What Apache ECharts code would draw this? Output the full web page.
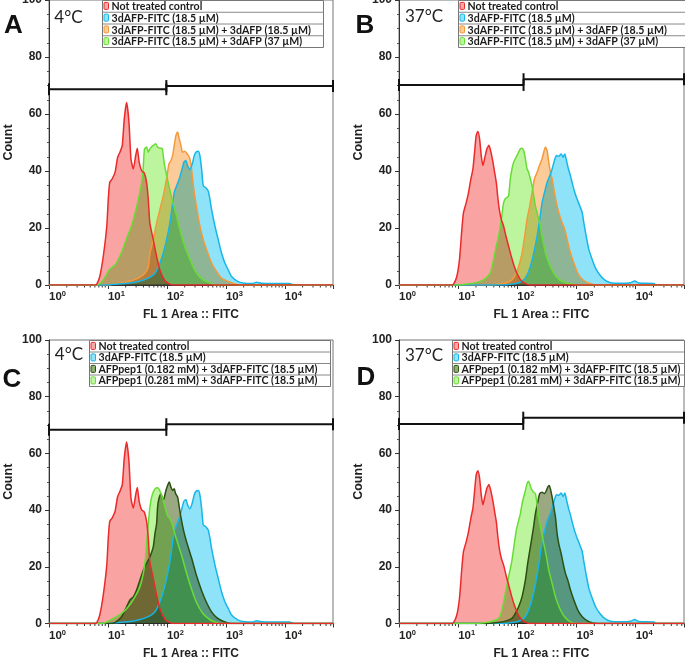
<!DOCTYPE html>
<html>
<head>
<meta charset="utf-8">
<script src="https://cdn.jsdelivr.net/npm/echarts@6/dist/echarts.min.js"></script>
<style>
html,body{margin:0;padding:0;background:#fff;}
#chart{width:685px;height:660px;}
</style>
</head>
<body>
<div id="chart"></div>
<script>
// ---------------- DATA ----------------
// x = log10(FL 1 Area :: FITC intensity), axis runs 10^0 .. 65536 ; y = cell count
const X_MAX = Math.log10(65536);
const xTickExponents = [0, 1, 2, 3, 4];

const legendAB = ['Not treated control', '3dAFP-FITC (18.5 µM)', '3dAFP-FITC (18.5 µM) + 3dAFP (18.5 µM)', '3dAFP-FITC (18.5 µM) + 3dAFP (37 µM)'];
const legendCD = ['Not treated control', '3dAFP-FITC (18.5 µM)', 'AFPpep1 (0.182 mM) + 3dAFP-FITC (18.5 µM)', 'AFPpep1 (0.281 mM) + 3dAFP-FITC (18.5 µM)'];
const panelLetters = ['A', 'B', 'C', 'D'];
const panelTemps = ['4°C', '37°C', '4°C', '37°C'];

// 4 °C histograms
const control4 = [[0,0],[0.78,0],[0.81,0.3],[0.86,2.9],[0.92,10],[0.98,20.6],[1.005,30],[1.03,36],[1.07,37.2],[1.12,39.5],[1.164,44.8],[1.203,46.6],[1.243,49],[1.277,58.4],[1.316,64],[1.356,57.2],[1.39,44.2],[1.43,40.7],[1.47,45.4],[1.497,48],[1.53,43],[1.57,40.1],[1.616,39.3],[1.655,36],[1.684,30],[1.71,21.8],[1.768,15.9],[1.825,10],[1.88,5.3],[1.966,1.5],[2.05,0.3],[2.1,0],[X_MAX,0]];
const fitc4 = [[0,0],[1.0,0],[1.062,0.2],[1.345,0.6],[1.514,1.2],[1.684,2.4],[1.797,4.1],[1.881,7.7],[1.938,11.2],[1.994,15.9],[2.051,21.8],[2.09,27.7],[2.124,32.5],[2.164,34.8],[2.209,37.2],[2.249,40.1],[2.288,43.1],[2.322,43.7],[2.35,41.9],[2.39,40.5],[2.43,42.5],[2.463,45.4],[2.492,46.6],[2.531,46.9],[2.559,45.4],[2.588,40.7],[2.616,34.8],[2.655,34.2],[2.7,33],[2.729,30.1],[2.757,26.5],[2.814,20.7],[2.87,15.9],[2.926,11.2],[2.983,7.7],[3.04,5.3],[3.096,3],[3.209,1.2],[3.322,0.6],[3.45,0.5],[3.52,1],[3.6,0.6],[3.8,0.5],[4.08,0.5],[4.15,0],[X_MAX,0]];
const comp18_4 = [[0,0],[1.0,0],[1.175,0.6],[1.345,1.2],[1.514,2.4],[1.627,4.1],[1.684,6.5],[1.712,11.2],[1.768,15.9],[1.825,21.8],[1.881,26.5],[1.938,31.3],[1.994,37.2],[2.034,42.5],[2.068,43.7],[2.096,45.4],[2.124,49],[2.153,52.5],[2.181,53.7],[2.209,51.3],[2.237,49],[2.266,46.6],[2.305,46.9],[2.345,46],[2.379,44.8],[2.407,42.5],[2.43,38.3],[2.463,32.5],[2.5,27.7],[2.559,20.7],[2.616,15.9],[2.672,12.4],[2.757,7.7],[2.842,4.7],[2.926,2.4],[3.096,0.8],[3.25,0],[X_MAX,0]];
const comp37_4 = [[0,0],[0.8,0],[0.85,0.3],[0.89,1],[0.92,1.8],[0.98,3.8],[1.03,5.5],[1.12,7],[1.2,10],[1.26,13],[1.32,16.5],[1.4,20.7],[1.49,27.7],[1.54,32.5],[1.58,37.2],[1.6,41.9],[1.62,47.8],[1.655,48.4],[1.684,46.6],[1.712,47.8],[1.74,48.5],[1.768,49],[1.808,49.6],[1.842,48.4],[1.881,48],[1.921,47.8],[1.94,45],[1.96,42],[1.99,39],[2.02,36],[2.1,29],[2.16,24.5],[2.25,17],[2.33,12],[2.42,7.5],[2.5,4.2],[2.6,2],[2.7,1],[2.8,0],[X_MAX,0]];
const pep182_4 = [[0,0],[1.05,0],[1.119,0.3],[1.232,2.4],[1.316,5.9],[1.373,8.3],[1.43,9.4],[1.486,11.8],[1.542,15.3],[1.599,18.8],[1.655,21.2],[1.712,23.5],[1.768,27],[1.797,31.7],[1.825,35.2],[1.842,41.1],[1.864,44],[1.898,45.8],[1.938,43.4],[1.983,46.9],[2.011,48.7],[2.039,49.9],[2.068,48.1],[2.096,46.9],[2.124,47.5],[2.147,45.8],[2.181,44.6],[2.209,41.1],[2.237,37.5],[2.28,33],[2.33,29],[2.42,23],[2.5,17],[2.59,11.5],[2.67,7.5],[2.76,4],[2.85,2],[2.95,0.8],[3.1,0],[X_MAX,0]];
const pep281_4 = [[0,0],[0.9,0],[0.96,0.3],[1.232,3.6],[1.345,5.9],[1.458,9.4],[1.542,12.9],[1.599,17.6],[1.638,23.5],[1.66,29.3],[1.684,35.2],[1.712,41.1],[1.74,44.6],[1.78,46.9],[1.825,47.9],[1.864,47.5],[1.898,45.8],[1.938,43.4],[1.966,41.1],[2.011,38],[2.05,37],[2.09,35],[2.15,30.5],[2.25,24],[2.33,18],[2.42,12],[2.5,7.5],[2.6,3.8],[2.7,1.8],[2.8,0.6],[2.9,0],[X_MAX,0]];

// 37 °C histograms
const control37 = [[0,0],[0.88,0],[0.921,0.3],[0.977,3],[1.022,8.9],[1.062,19.5],[1.09,25.4],[1.136,28.9],[1.175,32.4],[1.215,37.2],[1.249,40.7],[1.277,46.6],[1.305,52.5],[1.333,53.9],[1.362,51.3],[1.39,45.4],[1.418,41.9],[1.446,44.3],[1.486,47.8],[1.52,49],[1.554,46.6],[1.588,43.1],[1.616,39.5],[1.644,36],[1.667,31.3],[1.695,26.5],[1.729,23],[1.768,20.6],[1.808,17.1],[1.853,13.6],[1.898,10],[1.949,6.5],[2.006,3.5],[2.079,1.2],[2.164,0.2],[2.2,0],[X_MAX,0]];
const fitc37 = [[0,0],[1.8,0],[1.825,0.1],[1.994,0.6],[2.107,1.8],[2.164,3.5],[2.22,6.5],[2.277,11.2],[2.333,17.1],[2.378,23],[2.418,28.9],[2.458,32.4],[2.503,36],[2.548,38.3],[2.588,40.7],[2.627,43.7],[2.661,45.4],[2.7,45.2],[2.74,46],[2.774,44.8],[2.802,46],[2.83,43.7],[2.864,40.7],[2.898,38.3],[2.932,35.4],[2.972,32.4],[3.011,30.1],[3.056,27.7],[3.096,25.4],[3.124,21.8],[3.164,17.1],[3.209,12.4],[3.266,8.9],[3.322,5.9],[3.395,3.5],[3.474,1.8],[3.576,0.8],[3.746,0.6],[3.915,0.8],[3.983,1.4],[4.056,0.7],[4.31,0.5],[4.34,0],[X_MAX,0]];
const comp18_37 = [[0,0],[1.6,0],[1.655,0.2],[1.825,0.8],[1.909,1.8],[1.966,3.5],[2.022,6.5],[2.079,11.2],[2.124,17.1],[2.164,23],[2.209,27.7],[2.249,32.4],[2.288,37.2],[2.333,39.5],[2.373,41.9],[2.418,44.3],[2.446,46.6],[2.475,48.4],[2.503,47.2],[2.531,43.1],[2.559,39.5],[2.588,37.2],[2.627,32.4],[2.672,27.7],[2.717,24.2],[2.757,21.8],[2.802,19.5],[2.842,15.9],[2.898,11.2],[2.955,7.7],[3.022,4.1],[3.096,2],[3.209,0.6],[3.35,0],[X_MAX,0]];
const comp37_37 = [[0,0],[1.05,0],[1.09,0.2],[1.26,0.6],[1.43,1.8],[1.542,4.1],[1.599,8.9],[1.644,13.6],[1.684,17.1],[1.729,23],[1.768,28.9],[1.797,30.3],[1.825,30.7],[1.853,31.3],[1.881,37.2],[1.909,40.7],[1.938,43.1],[1.966,44.3],[1.994,45.4],[2.022,46.6],[2.051,47.8],[2.079,48],[2.107,47.2],[2.136,44.3],[2.164,40.7],[2.192,39.5],[2.22,37.2],[2.249,34.8],[2.277,31.3],[2.305,27.7],[2.333,25.4],[2.378,21.8],[2.418,17.1],[2.475,11.2],[2.531,7.7],[2.616,4.1],[2.7,2],[2.814,0.8],[2.955,0.2],[3.0,0],[X_MAX,0]];
const pep182_37 = [[0,0],[1.5,0],[1.542,0.1],[1.712,0.4],[1.825,1],[1.909,1.8],[1.966,3.6],[2.022,5.9],[2.079,9.4],[2.136,15.3],[2.175,21.2],[2.22,27],[2.266,32.9],[2.305,38.7],[2.345,42.8],[2.378,45.8],[2.418,46.3],[2.458,45.8],[2.492,46.9],[2.514,48.1],[2.537,48.7],[2.559,47.5],[2.588,44.6],[2.616,41.1],[2.644,37.5],[2.672,31.7],[2.7,28.2],[2.74,24.7],[2.774,21.2],[2.814,17.6],[2.853,15.3],[2.898,11.8],[2.955,8.3],[3.022,4.7],[3.096,2.4],[3.209,0.6],[3.35,0],[X_MAX,0]];
const pep281_37 = [[0,0],[1.3,0],[1.373,0.1],[1.542,0.6],[1.684,1.8],[1.74,4.7],[1.797,10.6],[1.853,16.5],[1.909,22.3],[1.949,28.2],[1.983,32.9],[2.022,36.4],[2.051,38.7],[2.079,42.2],[2.107,44.6],[2.136,46.9],[2.164,49.3],[2.186,50.2],[2.209,49.3],[2.237,47.5],[2.277,46.3],[2.305,45.8],[2.333,42.2],[2.362,37.5],[2.401,32.9],[2.446,28.2],[2.492,23.5],[2.531,18.8],[2.588,14.1],[2.644,9.4],[2.717,5.3],[2.797,2.4],[2.898,0.6],[3.011,0],[X_MAX,0]];

// gate markers: [from log10, to log10, count level]
const gatesA = [[0, 1.99, 68.7], [1.99, X_MAX, 69.8]];
const gatesB = [[0, 2.105, 70.2], [2.105, X_MAX, 72.2]];
const gatesC = [[0, 1.99, 68.3], [1.99, X_MAX, 70.3]];
const gatesD = [[0, 2.1, 70.4], [2.1, X_MAX, 72.6]];

// ---------------- STYLE / LAYOUT ----------------
const STY = {
  red:     {line: '#eb2a2a', fill: '#f9a3a3', icon: '#f7a9a9'},
  blue:    {line: '#17b6e8', fill: '#8fe3f9', icon: '#93e4f9'},
  orange:  {line: '#f39a3d', fill: '#fccb9a', icon: '#fbcb98'},
  green:   {line: '#68dc36', fill: '#bdf59e', icon: '#c0f5a2'},
  dkgreen: {line: '#2c4f12', fill: '#9aa982', icon: '#8fae6f'}
};
const FONT_AX = '"Liberation Sans", Arial, sans-serif';
const FONT_LG = 'Lato, "Open Sans", sans-serif';

const panels = [
  {grid: {left: 49, top: 0, width: 284, height: 285},
   hist: [[legendAB[2], comp18_4, 'orange'], [legendAB[1], fitc4, 'blue'], [legendAB[3], comp37_4, 'green'], [legendAB[0], control4, 'red']],
   legend: legendAB, legendSty: ['red', 'blue', 'orange', 'green'], gates: gatesA,
   lg: {x: 102, y: 0, w: 221, rh: 11.75}, letterPos: [13.5, 26], tempPos: [68.5, 18]},
  {grid: {left: 399, top: 0, width: 285, height: 285},
   hist: [[legendAB[2], comp18_37, 'orange'], [legendAB[1], fitc37, 'blue'], [legendAB[3], comp37_37, 'green'], [legendAB[0], control37, 'red']],
   legend: legendAB, legendSty: ['red', 'blue', 'orange', 'green'], gates: gatesB,
   lg: {x: 458, y: 0, w: 228, rh: 11.75}, letterPos: [365, 26], tempPos: [424, 17]},
  {grid: {left: 49, top: 340, width: 284, height: 283.5},
   hist: [[legendCD[1], fitc4, 'blue'], [legendCD[2], pep182_4, 'dkgreen'], [legendCD[3], pep281_4, 'green'], [legendCD[0], control4, 'red']],
   legend: legendCD, legendSty: ['red', 'blue', 'dkgreen', 'green'], gates: gatesC,
   lg: {x: 89, y: 340, w: 241, rh: 11.5}, letterPos: [12, 379.5], tempPos: [69, 355]},
  {grid: {left: 399, top: 340, width: 285, height: 283.5},
   hist: [[legendCD[1], fitc37, 'blue'], [legendCD[2], pep182_37, 'dkgreen'], [legendCD[3], pep281_37, 'green'], [legendCD[0], control37, 'red']],
   legend: legendCD, legendSty: ['red', 'blue', 'dkgreen', 'green'], gates: gatesD,
   lg: {x: 452, y: 340, w: 232, rh: 11.5}, letterPos: [366, 378], tempPos: [424, 356]}
];

// log minor tick positions (2..9 × 10^d)
const xMinorTicks = [];
for (const d of xTickExponents) for (let k = 2; k <= 9; k++) {
  const v = d + Math.log10(k);
  if (v < X_MAX) xMinorTicks.push([v, 0]);
}

function renderMinorTick(params, api) {
  const p = api.coord([api.value(0), 0]);
  return {type: 'line', shape: {x1: p[0], y1: p[1], x2: p[0], y2: p[1] + 2.5},
          style: {stroke: '#333', lineWidth: 1}};
}
function renderGate(params, api) {
  const a = api.coord([api.value(0), api.value(2)]);
  const b = api.coord([api.value(1), api.value(2)]);
  const c = 6, st = {stroke: '#111', lineWidth: 2};
  return {type: 'group', children: [
    {type: 'line', shape: {x1: a[0], y1: a[1], x2: b[0], y2: b[1]}, style: st},
    {type: 'line', shape: {x1: a[0], y1: a[1] - c, x2: a[0], y2: a[1] + c}, style: st},
    {type: 'line', shape: {x1: b[0], y1: b[1] - c, x2: b[0], y2: b[1] + c}, style: st}
  ]};
}
// filled histogram area, drawn once (at its first item) from all of the series' own data points
function makeFillRender(fill) {
  return function (params, api) {
    if (params.dataIndexInside !== 0) return null;
    const pts = [];
    for (let k = 0; k < params.dataInsideLength; k++) {
      pts.push(api.coord([api.value(0, k), api.value(1, k)]));
    }
    return {type: 'polygon', shape: {points: pts, smooth: 0.2}, style: {fill: fill}};
  };
}

const grids = [], xAxes = [], yAxes = [], series = [], graphics = [];
panels.forEach((p, i) => {
  grids.push(Object.assign({show: true, borderColor: '#777', borderWidth: 1, containLabel: false, outerBoundsMode: 'none'}, p.grid));
  xAxes.push({
    type: 'value', gridIndex: i, min: 0, max: X_MAX, interval: 1,
    name: 'FL 1 Area :: FITC', nameLocation: 'middle', nameGap: 24,
    nameTextStyle: {fontFamily: FONT_AX, fontWeight: 'bold', fontSize: 12, color: '#222'},
    axisLine: {show: true, lineStyle: {color: '#333', width: 1}},
    axisTick: {show: true, length: 4, lineStyle: {color: '#333'}},
    splitLine: {show: false},
    axisLabel: {
      align: 'left', margin: 5,
      formatter: v => xTickExponents.some(e => Math.abs(e - v) < 1e-6) ? '{b|10}{s|' + Math.round(v) + '}' : '',
      rich: {
        b: {fontFamily: FONT_AX, fontWeight: 'bold', fontSize: 11.5, color: '#222', lineHeight: 14},
        s: {fontFamily: FONT_AX, fontWeight: 'bold', fontSize: 7.5, color: '#222', lineHeight: 14, verticalAlign: 'top', padding: [0, 0, 5, 0]}
      }
    }
  });
  yAxes.push({
    type: 'value', gridIndex: i, min: 0, max: 100, interval: 20,
    name: 'Count', nameLocation: 'middle', nameGap: 34,
    nameTextStyle: {fontFamily: FONT_AX, fontWeight: 'bold', fontSize: 12.5, color: '#222'},
    axisLine: {show: true, lineStyle: {color: '#333', width: 1}},
    axisTick: {show: true, length: 4, lineStyle: {color: '#333'}},
    minorTick: {show: true, splitNumber: 4, length: 2, lineStyle: {color: '#555'}},
    splitLine: {show: false},
    axisLabel: {fontFamily: FONT_AX, fontWeight: 'bold', fontSize: 12, color: '#222', margin: 7, padding: [6, 0, 0, 0]}
  });
  p.hist.forEach(h => {
    const s = STY[h[2]];
    // fill (multiplied, like overlaid flow-cytometry histograms)
    series.push({
      type: 'custom', name: h[0], xAxisIndex: i, yAxisIndex: i, data: h[1],
      encode: {x: 0, y: 1}, renderItem: makeFillRender(s.fill), clip: true, silent: true,
      blendMode: 'multiply'
    });
    // outline
    series.push({
      type: 'line', name: h[0], xAxisIndex: i, yAxisIndex: i, data: h[1],
      showSymbol: false, symbol: 'none', smooth: 0.2, silent: true,
      lineStyle: {color: s.line, width: 1.5}, itemStyle: {color: s.line}
    });
  });
  series.push({type: 'custom', xAxisIndex: i, yAxisIndex: i, data: xMinorTicks, renderItem: renderMinorTick, clip: false, silent: true});
  series.push({type: 'custom', xAxisIndex: i, yAxisIndex: i, data: p.gates, renderItem: renderGate, clip: false, silent: true, z: 5});

  // legend table
  const L = p.lg, kids = [];
  kids.push({type: 'rect', shape: {x: L.x + 0.5, y: L.y + 0.5, width: L.w, height: L.rh * 4}, style: {fill: '#fff', stroke: '#777', lineWidth: 1}});
  for (let r = 1; r < 4; r++) kids.push({type: 'line', shape: {x1: L.x + 0.5, y1: L.y + 0.5 + L.rh * r, x2: L.x + 0.5 + L.w, y2: L.y + 0.5 + L.rh * r}, style: {stroke: '#888', lineWidth: 1}});
  p.legend.forEach((name, r) => {
    const s = STY[p.legendSty[r]];
    kids.push({type: 'rect', shape: {x: L.x + 2, y: L.y + L.rh * r + 2.4, width: 4.5, height: 7, r: 1}, style: {fill: s.icon, stroke: s.line, lineWidth: 1}});
    kids.push({type: 'text', x: L.x + 9.5, y: L.y + L.rh * (r + 0.5) + 0.8,
      style: {text: name, fill: '#1a1a1a', fontFamily: FONT_LG, fontWeight: 'bold', fontSize: 10.6, align: 'left', verticalAlign: 'middle', textAlign: 'left', textVerticalAlign: 'middle'}});
  });
  graphics.push({type: 'group', z: 100, children: kids});
  graphics.push({type: 'text', x: p.letterPos[0], y: p.letterPos[1], z: 100,
    style: {text: panelLetters[i], fill: '#111', fontFamily: FONT_AX, fontWeight: 'bold', fontSize: 26, align: 'center', verticalAlign: 'middle', textAlign: 'center', textVerticalAlign: 'middle'}});
  graphics.push({type: 'text', x: p.tempPos[0], y: p.tempPos[1], z: 100,
    style: {text: panelTemps[i], fill: '#222', fontFamily: FONT_LG, fontSize: 17, align: 'center', verticalAlign: 'middle', textAlign: 'center', textVerticalAlign: 'middle'}});
});

const chart = echarts.init(document.getElementById('chart'), null, {renderer: 'canvas'});
chart.setOption({
  animation: false,
  backgroundColor: '#fff',
  grid: grids, xAxis: xAxes, yAxis: yAxes, series: series, graphic: graphics
});
</script>
</body>
</html>
